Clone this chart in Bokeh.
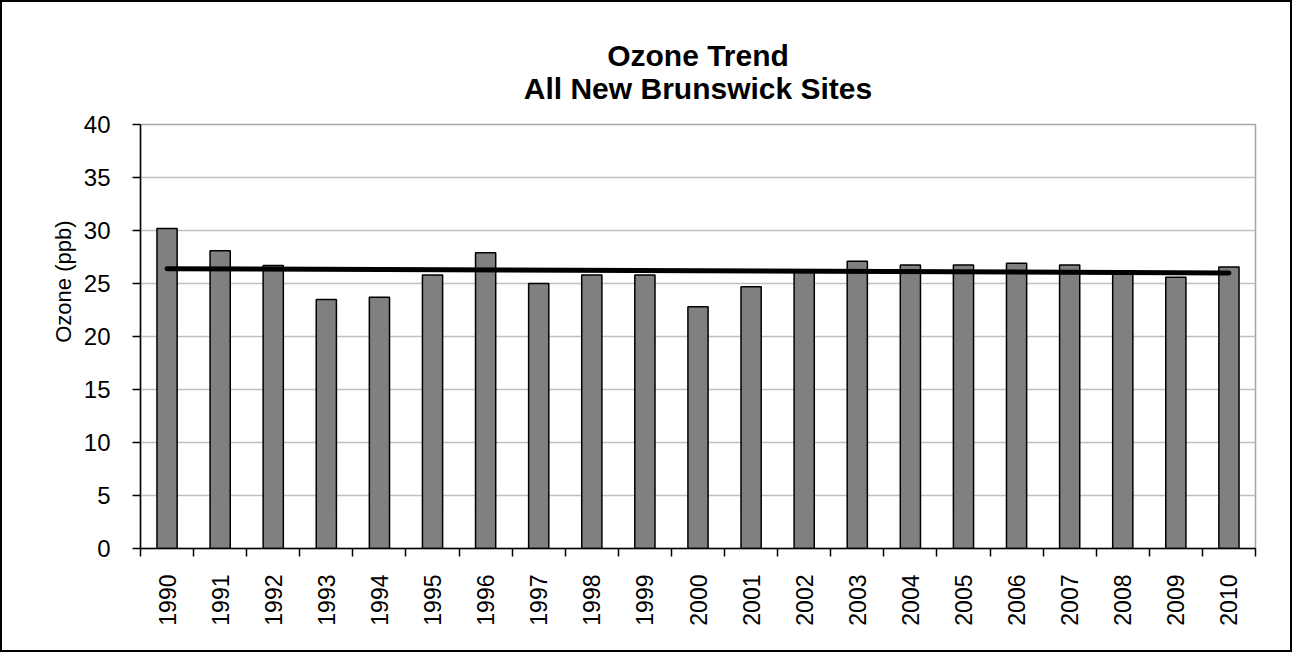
import numpy as np
from bokeh.plotting import figure
from bokeh.models import Range1d, FixedTicker, Title
from bokeh.embed import file_html
from bokeh.resources import INLINE

# ---- data ----
years = list(range(1990, 2011))
year_labels = [str(y) for y in years]
ozone = [30.2, 28.1, 26.7, 23.5, 23.7, 25.8, 27.9, 25.0, 25.8, 25.8,
         22.8, 24.7, 26.1, 27.1, 26.75, 26.75, 26.9, 26.75, 26.0, 25.6, 26.55]
trend_years = [1990, 2010]
trend_values = [26.4, 26.0]
y_ticks = [0, 5, 10, 15, 20, 25, 30, 35, 40]
title_text = "Ozone Trend\nAll New Brunswick Sites"
y_title = "Ozone (ppb)"

FONT = "Liberation Sans"

p = figure(width=1292, height=652, output_backend="svg", toolbar_location=None,
           x_range=Range1d(years[0] - 0.5, years[-1] + 0.5), y_range=Range1d(0, 40),
           min_border_left=138, min_border_right=39, min_border_top=122, min_border_bottom=106)
p.styles = {"border": "2px solid black"}
p.background_fill_color = "white"
p.border_fill_color = "white"
p.outline_line_color = "#a6a6a6"
p.outline_line_width = 1.5

p.vbar(x=years, top=ozone, width=0.38, fill_color="#808080", line_color="black", line_width=1.5)
p.line(trend_years, trend_values, line_color="black", line_width=5, line_cap="round")

# y axis
p.yaxis.ticker = FixedTicker(ticks=y_ticks)
p.yaxis.major_tick_out = 8
p.yaxis.major_tick_in = 0
p.yaxis.minor_tick_line_color = None
p.yaxis.axis_line_color = "black"
p.yaxis.axis_line_width = 1.5
p.yaxis.major_tick_line_width = 1.5
p.yaxis.major_label_text_font = FONT
p.yaxis.major_label_text_font_size = "24px"
p.yaxis.major_label_text_color = "black"
p.yaxis.major_label_standoff = 22

# y axis title, placed like the reference (above the frame's centre)
p.add_layout(Title(text=y_title, align="right", offset=96, vertical_align="bottom",
                   text_font=FONT, text_font_size="22px", text_font_style="normal",
                   text_color="black", standoff=10), "left")

# x axis: labels at bar centres, tick marks between categories
p.xaxis.ticker = FixedTicker(ticks=years, minor_ticks=[y - 0.5 for y in years] + [years[-1] + 0.5])
p.xaxis.major_label_overrides = {y: s for y, s in zip(years, year_labels)}
p.xaxis.major_tick_line_color = None
p.xaxis.major_tick_out = 0
p.xaxis.major_tick_in = 0
p.xaxis.minor_tick_line_color = "black"
p.xaxis.minor_tick_line_width = 1.5
p.xaxis.minor_tick_out = 8
p.xaxis.minor_tick_in = 0
p.xaxis.axis_line_color = "black"
p.xaxis.axis_line_width = 1.5
p.xaxis.major_label_orientation = np.pi / 2
p.xaxis.major_label_text_font = FONT
p.xaxis.major_label_text_font_size = "23px"
p.xaxis.major_label_text_color = "black"
p.xaxis.major_label_standoff = 18

p.xgrid.grid_line_color = None
p.ygrid.grid_line_color = "#c0c0c0"
p.ygrid.grid_line_width = 1.5

# two-line bold title
p.add_layout(Title(text=title_text, align="center", text_align="center", text_font=FONT,
                   text_font_size="30px", text_font_style="bold", text_color="black",
                   text_line_height=1.0, standoff=40), "above")

open("out.html", "w").write(file_html(p, INLINE))
